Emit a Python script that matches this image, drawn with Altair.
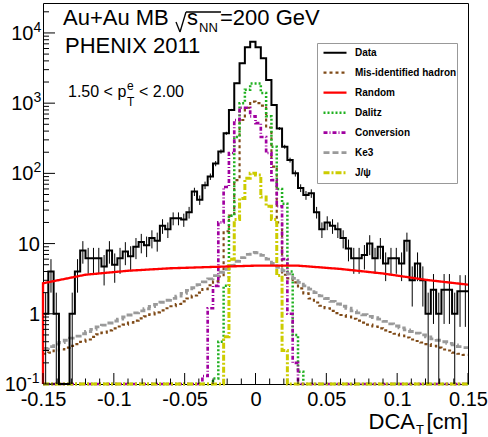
import altair as alt
import numpy as np
import pandas as pd

FONT = "Liberation Sans"
N_BINS = 80
X_MIN, X_MAX = -0.15, 0.15
Y_MIN, Y_TOP = 0.1, 26700
PLOT_W, PLOT_H = 425, 381

# ---- histogram contents (80 bins from -0.15 to 0.15) ----
data_vals = [1.0, 4.0, 1.0, 0, 0, 1.0, 4.0, 8.0, 6.2, 6.2,
             6.2, 4.7, 8.0, 5.0, 6.2, 7.7, 6.6, 9.0, 10.5, 9.5,
             12, 11, 18, 16, 23, 23, 22, 28, 55, 42,
             68, 90, 138, 205, 372, 800, 1920, 3700, 6250, 7500,
             6250, 4360, 2140, 940, 436, 240, 155, 100, 62, 49,
             52, 28, 16, 20, 18, 16, 12, 8.5, 6.2, 6.2,
             6.9, 10, 6.2, 9.0, 5.2, 6.2, 6.2, 5.2, 11, 3.0,
             5.2, 3.0, 1.0, 2.2, 1.0, 2.2, 2.2, 1.0, 2.1, 2.1]
misid_vals = [0.27, 0.28, 0.30, 0.31, 0.33, 0.35, 0.37, 0.40, 0.43, 0.47,
              0.51, 0.54, 0.58, 0.62, 0.66, 0.70, 0.75, 0.80, 0.86, 0.92,
              0.98, 1.05, 1.12, 1.2, 1.28, 1.38, 1.5, 1.65, 1.82, 2.0,
              2.25, 2.55, 2.9, 3.4, 15, 25, 80, 575, 860, 1050,
              1000, 920, 450, 125, 20, 3.6, 3.2, 2.8, 2.3, 1.95,
              1.65, 1.45, 1.3, 1.2, 1.1, 1.02, 0.96, 0.91, 0.85, 0.8,
              0.75, 0.7, 0.66, 0.62, 0.58, 0.55, 0.52, 0.49, 0.46, 0.43,
              0.41, 0.39, 0.37, 0.35, 0.33, 0.31, 0.30, 0.28, 0.27, 0.26]
dalitz_vals = [0] * 32 + [0.12, 0.4, 2.5, 25, 330, 1000, 1550, 1900,
                          1900, 1400, 650, 240, 60, 37, 4, 0.5, 0.15] + [0] * 31
conv_vals = [0] * 30 + [0.13, 1.2, 2.5, 20, 64, 195, 575, 860, 860, 650,
                        520, 330, 195, 80, 34, 6, 1.0, 0.2] + [0] * 32
ke3_vals = [0.32, 0.34, 0.37, 0.39, 0.42, 0.45, 0.48, 0.52, 0.56, 0.60,
            0.65, 0.69, 0.74, 0.79, 0.84, 0.90, 0.96, 1.03, 1.10, 1.18,
            1.27, 1.36, 1.46, 1.56, 1.66, 1.78, 1.95, 2.15, 2.35, 2.6,
            2.85, 3.15, 3.5, 3.9, 4.3, 4.9, 5.6, 6.3, 7.0, 7.5,
            7.4, 6.8, 6.0, 5.2, 4.6, 4.1, 3.7, 3.2, 2.8, 2.5,
            2.25, 2.0, 1.8, 1.65, 1.5, 1.38, 1.28, 1.2, 1.1, 1.03,
            0.97, 0.92, 0.88, 0.84, 0.78, 0.72, 0.67, 0.63, 0.59, 0.56,
            0.53, 0.50, 0.47, 0.44, 0.42, 0.40, 0.38, 0.36, 0.34, 0.33]
jpsi_vals = [0] * 34 + [0.47, 6, 22, 44, 85, 100, 95, 46, 34, 22, 3.5, 0.3] + [0] * 34

random_x = [-0.15, -0.15, -0.12, -0.09, -0.06, -0.03, 0.0, 0.03, 0.06, 0.09, 0.12, 0.15]
random_vals = [0, 2.72, 3.6, 4.1, 4.45, 4.65, 4.85, 4.85, 4.35, 3.75, 3.05, 2.6]

series_names = ["Data", "Mis-identified hadron", "Random", "Dalitz", "Conversion", "Ke3", "J/ψ"]
series_colors = ["#000000", "#7f4a17", "#ff0000", "#1fb01f", "#a000a0", "#9a9a9a", "#cccc00"]
series_dash = [[1, 0], [3, 3], [1, 0], [2, 2], [4, 2, 1, 2], [6, 3], [6, 2, 2, 2]]
series_width = [2, 3, 4, 3, 3, 4, 3]

x_label_vals = [-0.15, -0.1, -0.05, 0, 0.05, 0.1, 0.15]
x_minor_vals = [-0.14, -0.13, -0.12, -0.11, -0.09, -0.08, -0.07, -0.06, -0.04, -0.03,
                -0.02, -0.01, 0.01, 0.02, 0.03, 0.04, 0.06, 0.07, 0.08, 0.09,
                0.11, 0.12, 0.13, 0.14]
y_label_vals = [0.1, 1, 10, 100, 1000, 10000]
y_label_base = ["10", "1", "10", "10", "10", "10"]
y_label_exp = ["-1", "", "", "2", "3", "4"]
y_minor_vals = [0.2, 0.3, 0.4, 0.5, 0.6, 0.7, 0.8, 0.9,
                2, 3, 4, 5, 6, 7, 8, 9,
                20, 30, 40, 50, 60, 70, 80, 90,
                200, 300, 400, 500, 600, 700, 800, 900,
                2000, 3000, 4000, 5000, 6000, 7000, 8000, 9000, 20000]

# ---- build tables ----
edges = np.linspace(X_MIN, X_MAX, N_BINS + 1)
centers = 0.5 * (edges[:-1] + edges[1:])


def hist_rows(name, vals):
    rows = []
    for i in range(N_BINS + 1):
        v = vals[min(i, N_BINS - 1)]
        rows.append({"series": name, "x": float(edges[i]), "v": max(v, Y_MIN), "order": i})
    return rows


comp_rows = []
for nm, vals in [("Mis-identified hadron", misid_vals), ("Dalitz", dalitz_vals),
                 ("Conversion", conv_vals), ("Ke3", ke3_vals), ("J/ψ", jpsi_vals)]:
    comp_rows += hist_rows(nm, vals)
comp_df = pd.DataFrame(comp_rows)
data_df = pd.DataFrame(hist_rows("Data", data_vals))

err_df = pd.DataFrame({
    "x": centers,
    "lo": [max(v - np.sqrt(v), Y_MIN) for v in data_vals],
    "hi": [v + np.sqrt(v) for v in data_vals],
    "n": data_vals,
})
err_df = err_df[err_df["n"] > 0]

rand_df = pd.DataFrame({"series": "Random", "x": random_x,
                        "v": [max(v, Y_MIN) for v in random_vals],
                        "order": list(range(len(random_x)))})

# ---- scales / axes / legend ----
xscale = alt.Scale(domain=[X_MIN, X_MAX], nice=False, zero=False)
yscale = alt.Scale(type="log", domain=[Y_MIN, Y_TOP], nice=False)

xaxis = alt.Axis(values=x_label_vals, format=".2~f",
                 labelExpr="replace(datum.label, '−', '-')",
                 ticks=False, domain=False, grid=False, title=None,
                 labelFontSize=20, labelPadding=5, labelFlush=False, labelOverlap=False,
                 labelColor="black", labelFont=FONT)

legend = alt.Legend(title=None, orient="none", legendX=274, legendY=40,
                    fillColor="white", strokeColor="#999999", padding=0,
                    symbolType="stroke", symbolSize=529, symbolStrokeWidth=1.5,
                    symbolOffset=5, clipHeight=19.3, rowPadding=0,
                    labelOffset=7, labelFontSize=10, labelFontWeight="bold",
                    labelFont=FONT, labelColor="black", cornerRadius=0)

color = alt.Color("series:N", scale=alt.Scale(domain=series_names, range=series_colors), legend=legend)
dash = alt.StrokeDash("series:N", scale=alt.Scale(domain=series_names, range=series_dash), legend=legend)
width_enc = alt.StrokeWidth("series:N", scale=alt.Scale(domain=series_names, range=series_width), legend=None)

X = lambda f: alt.X(f, scale=xscale, axis=xaxis)
Y = lambda f: alt.Y(f, scale=yscale, axis=None)

comp = alt.Chart(comp_df).mark_line(interpolate="step-after", clip=False).encode(
    x=X("x:Q"), y=Y("v:Q"), color=color, strokeDash=dash, strokeWidth=width_enc,
    order=alt.Order("order:Q"))

data_line = alt.Chart(data_df).mark_line(interpolate="step-after", clip=False).encode(
    x=X("x:Q"), y=Y("v:Q"), color=color, strokeDash=dash, strokeWidth=width_enc,
    order=alt.Order("order:Q"))

errs = alt.Chart(err_df).mark_rule(color="black", strokeWidth=1).encode(
    x=X("x:Q"), y=Y("lo:Q"), y2="hi:Q")

rand = alt.Chart(rand_df).mark_line(interpolate="linear", clip=False).encode(
    x=X("x:Q"), y=Y("v:Q"), color=color, strokeDash=dash, strokeWidth=width_enc,
    order=alt.Order("order:Q"))

# ---- inward ticks ----
xmaj = alt.Chart(pd.DataFrame({"t": x_label_vals})).mark_rule(color="black").encode(
    x=X("t:Q"), y=alt.value(PLOT_H), y2=alt.value(PLOT_H - 11))
xmin_ = alt.Chart(pd.DataFrame({"t": x_minor_vals})).mark_rule(color="black").encode(
    x=X("t:Q"), y=alt.value(PLOT_H), y2=alt.value(PLOT_H - 5.5))
ymaj = alt.Chart(pd.DataFrame({"t": y_label_vals})).mark_rule(color="black").encode(
    y=Y("t:Q"), x=alt.value(0), x2=alt.value(12))
ymin_ = alt.Chart(pd.DataFrame({"t": y_minor_vals})).mark_rule(color="black").encode(
    y=Y("t:Q"), x=alt.value(0), x2=alt.value(6))

# ---- y tick labels: base + superscript exponent, placed through the y scale ----
ylab_layers = []
for val, base, ex in zip(y_label_vals, y_label_base, y_label_exp):
    one = pd.DataFrame({"t": [val], "base": [base], "ex": [ex]})
    if ex:
        bx = -3 - 6.5 * len(ex)
        ylab_layers.append(alt.Chart(one).mark_text(
            align="right", baseline="middle", fontSize=20, font=FONT, color="black", dy=1
        ).encode(y=Y("t:Q"), x=alt.value(bx), text="base:N"))
        ylab_layers.append(alt.Chart(one).mark_text(
            align="left", baseline="alphabetic", fontSize=14, font=FONT, color="black", dy=-1
        ).encode(y=Y("t:Q"), x=alt.value(bx), text="ex:N"))
    else:
        ylab_layers.append(alt.Chart(one).mark_text(
            align="right", baseline="middle", fontSize=20, font=FONT, color="black", dy=1
        ).encode(y=Y("t:Q"), x=alt.value(-3), text="base:N"))

# ---- annotations ----
dummy = pd.DataFrame({"a": [0]})


def txt(text, x, y, size, align="left", baseline="alphabetic", weight="normal"):
    return alt.Chart(dummy).mark_text(text=text, align=align, baseline=baseline,
                                      fontSize=size, font=FONT, color="black",
                                      fontWeight=weight).encode(x=alt.value(x), y=alt.value(y))


def seg(x1, y1, x2, y2):
    return alt.Chart(dummy).mark_rule(color="black", strokeWidth=1.3).encode(
        x=alt.value(x1), y=alt.value(y1), x2=alt.value(x2), y2=alt.value(y2))


ann = [
    txt("Au+Au MB", 20, 22, 22),
    seg(133, 19, 137, 29),
    seg(137, 29, 143, 9),
    seg(143, 9, 178, 9),
    txt("s", 144, 22, 22),
    txt("NN", 156, 29, 13),
    txt("=200 GeV", 177, 22, 22),
    txt("PHENIX 2011", 22, 50, 22),
    txt("1.50 < p", 25, 94, 16),
    txt("e", 84, 87, 12),
    txt("T", 84, 103, 12),
    txt("< 2.00", 96, 94, 16),
    txt("DCA", 372, 426, 22, align="right"),
    txt("T", 373, 431, 13),
    txt("[cm]", 425, 426, 22, align="right"),
]

chart = alt.layer(comp, data_line, errs, rand, xmaj, xmin_, ymaj, ymin_,
                  *ylab_layers, *ann).properties(
    width=PLOT_W, height=PLOT_H,
    padding={"left": 43, "top": 3, "right": 20, "bottom": 53},
    autosize=alt.AutoSizeParams(type="none"),
    background="white",
).configure_view(stroke="black", strokeWidth=1)

chart.save("out.html", embed_options={"renderer": "svg", "actions": False})
